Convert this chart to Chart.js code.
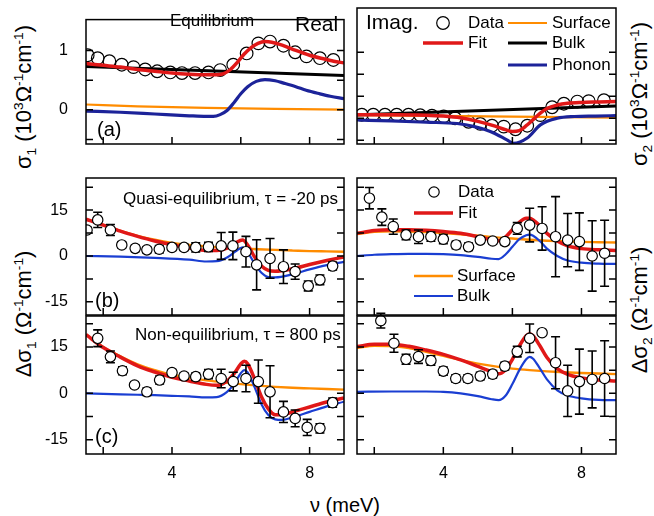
<!DOCTYPE html>
<html><head><meta charset="utf-8">
<script src="https://cdn.jsdelivr.net/npm/chart.js@4.4.1/dist/chart.umd.min.js"></script>
<style>
html,body{margin:0;padding:0;background:#fff;}
#wrap{position:relative;width:654px;height:516px;overflow:hidden;font-family:"Liberation Sans",Arial,sans-serif;color:#000;}
canvas{position:absolute;left:0;top:0;}
.ttl{position:absolute;white-space:nowrap;font-size:22px;line-height:1;transform:translate(-50%,-50%);}
.rot{transform:translate(-50%,-50%) rotate(-90deg);}
.ttl sub,.ttl sup{font-size:0.62em;line-height:0;}
</style></head>
<body><div id="wrap">
<div class="ttl rot" style="left:24px;top:97px">σ<sub>1</sub> (10<sup>3</sup>Ω<sup>-1</sup>cm<sup>-1</sup>)</div>
<div class="ttl rot" style="left:24px;top:314px">Δσ<sub>1</sub> (Ω<sup>-1</sup>cm<sup>-1</sup>)</div>
<div class="ttl rot" style="left:640px;top:94px">σ<sub>2</sub> (10<sup>3</sup>Ω<sup>-1</sup>cm<sup>-1</sup>)</div>
<div class="ttl rot" style="left:640px;top:310px">Δσ<sub>2</sub> (Ω<sup>-1</sup>cm<sup>-1</sup>)</div>
<div class="ttl" style="left:345px;top:505px;font-size:20px">ν (meV)</div>
</div>
<script>
// ---------------- data ----------------
// (a) equilibrium, real part sigma1 (10^3 Ohm^-1 cm^-1)
const freqA1 = [1.55,1.84,2.18,2.54,2.88,3.22,3.57,3.95,4.29,4.67,5.06,5.40,5.78,6.17,6.51,6.85,7.24,7.58,7.91,8.30,8.69];
const sigma1 = [0.92,0.87,0.82,0.76,0.72,0.68,0.65,0.63,0.62,0.62,0.63,0.67,0.76,0.95,1.12,1.15,1.08,0.97,0.90,0.87,0.84];
const fitA1x = [1.5,2.0,2.5,3.0,3.5,4.0,4.5,5.0,5.3,5.5,5.7,5.9,6.1,6.3,6.5,6.7,6.9,7.2,7.6,8.0,8.4,8.7,9.0];
const fitA1  = [0.78,0.75,0.72,0.68,0.65,0.62,0.60,0.59,0.59,0.61,0.68,0.80,0.94,1.05,1.12,1.15,1.14,1.09,1.00,0.92,0.86,0.82,0.79];
const bulkA1x = [1.5,9.0];
const bulkA1  = [0.73,0.58];
const surfA1x = [1.5,3.0,5.0,7.0,9.0];
const surfA1  = [0.09,0.06,0.035,0.015,0.005];
const phonA1x = [1.5,2.5,3.5,4.5,5.0,5.2,5.4,5.6,5.8,6.0,6.2,6.45,6.7,7.0,7.25,7.6,7.9,8.3,8.6,9.0];
const phonA1  = [-0.02,-0.04,-0.07,-0.10,-0.11,-0.11,-0.08,-0.01,0.12,0.27,0.39,0.48,0.51,0.49,0.45,0.39,0.33,0.27,0.23,0.19];

// (a) equilibrium, imaginary part sigma2
const freqA2 = [1.64,1.97,2.31,2.65,2.99,3.33,3.67,4.01,4.34,4.73,5.07,5.41,5.75,6.09,6.43,6.81,7.15,7.49,7.88,8.21,8.65];
const sigma2 = [0.08,0.08,0.08,0.08,0.08,0.07,0.06,0.04,0.0,-0.08,-0.13,-0.17,-0.19,-0.25,-0.17,0.07,0.25,0.33,0.38,0.39,0.41];
const fitA2x = [1.5,2.5,3.5,4.0,4.5,5.0,5.5,5.8,6.0,6.2,6.4,6.6,6.8,7.0,7.3,7.6,8.0,8.5,9.0];
const fitA2  = [0.08,0.08,0.07,0.05,0.01,-0.07,-0.18,-0.26,-0.30,-0.28,-0.17,-0.03,0.11,0.22,0.30,0.34,0.36,0.37,0.38];
const bulkA2x = [1.5,9.0];
const bulkA2  = [0.075,0.28];
const surfA2x = [1.5,9.0];
const surfA2  = [0.07,0.015];
const phonA2x = [1.5,2.5,3.5,4.4,4.9,5.36,5.84,6.03,6.43,6.81,7.3,7.8,8.4,9.0];
const phonA2  = [-0.04,-0.06,-0.09,-0.12,-0.19,-0.30,-0.49,-0.57,-0.45,-0.15,0.0,0.04,0.05,0.06];

// (b) quasi-equilibrium, tau = -20 ps, Delta sigma1 (Ohm^-1 cm^-1)
const freqB1 = [1.53,1.84,2.21,2.54,2.93,3.27,3.63,4.00,4.35,4.69,5.06,5.43,5.77,6.15,6.46,6.85,7.24,7.58,7.96,8.30,8.67];
const dSigB1 = [8.5,11.8,8.5,3.6,2.5,2.0,2.2,2.8,2.8,2.8,3.0,3.3,3.3,1.4,-2.9,-0.8,-3.5,-5.1,-9.8,-7.8,-3.3];
const errB1  = [1.0,2.5,1.8,1.0,1.0,1.0,1.2,1.0,1.0,1.5,1.5,4.4,4.5,5.0,8.2,6.5,5.5,2.5,1.6,1.6,1.3];
const fitB1x = [1.5,2.0,2.5,3.0,3.5,4.0,4.5,5.0,5.3,5.6,5.85,6.05,6.2,6.4,6.6,6.8,7.0,7.5,8.0,8.5,9.0];
const fitB1  = [12,10.1,8.1,6.4,4.9,3.7,2.6,1.8,1.8,2.6,4.3,5.2,3.6,-0.3,-3.3,-4.7,-5.0,-4.2,-2.8,-1.5,-0.3];
const surfB1x = [1.5,2.0,2.5,3.0,3.5,4.0,4.5,5.0,5.5,6.0,6.5,7.0,7.5,8.0,8.5,9.0];
const surfB1  = [12,10.2,8.2,6.6,5.3,4.3,3.6,3.1,2.7,2.4,2.2,2.0,1.8,1.6,1.5,1.4];
const bulkB1x = [1.5,2.5,3.5,4.5,5.0,5.3,5.6,5.85,6.05,6.2,6.4,6.6,6.8,7.0,7.5,8.0,8.5,9.0];
const bulkB1  = [0,-0.2,-0.6,-1.2,-1.8,-1.7,-0.5,1.5,2.8,1.2,-2.5,-5.5,-6.9,-7.0,-6.0,-4.4,-3.0,-1.9];

// (b) quasi-equilibrium, Delta sigma2
const freqB2 = [1.86,2.22,2.55,2.92,3.28,3.64,4.00,4.37,4.73,5.07,5.43,5.78,6.14,6.50,6.86,7.25,7.60,7.94,8.31,8.67];
const dSigB2 = [18.9,12.7,9.6,6.9,6.3,6.3,5.5,3.6,3.0,5.2,4.9,4.7,9.0,10.1,9.0,6.3,5.2,4.7,0.0,0.9];
const errB2  = [3.5,2.7,2.5,1.6,2.2,1.5,1.5,1.2,1.2,1.0,1.0,1.0,1.9,5.5,7.1,13.1,8.7,9.4,11.5,10.8];
const fitB2x = [1.5,2.0,2.5,3.0,3.5,4.0,4.5,5.0,5.4,5.6,5.8,6.0,6.2,6.4,6.5,6.6,6.8,7.0,7.3,7.6,8.0,8.5,9.0];
const fitB2  = [7.4,8.3,8.6,8.6,8.4,8.0,7.4,6.3,5.3,5.0,6.2,8.6,11.0,12.3,12.3,11.8,9.8,7.4,4.9,3.3,2.4,2.0,1.8];
const surfB2x = [1.5,2.0,2.5,3.0,3.5,4.0,4.5,5.0,5.5,6.0,6.5,7.0,7.5,8.0,8.5,9.0];
const surfB2  = [7.2,7.9,8.1,8.0,7.8,7.5,7.1,6.6,6.1,5.7,5.3,5.0,4.8,4.6,4.5,4.4];
const bulkB2x = [1.5,2.0,2.5,3.0,3.5,4.0,4.5,5.0,5.4,5.6,5.8,6.0,6.2,6.4,6.5,6.6,6.8,7.0,7.3,7.6,8.0,8.5,9.0];
const bulkB2  = [0,0.4,0.6,0.7,0.7,0.6,0.3,-0.3,-0.9,-1.0,0.5,3.0,5.5,6.8,7.0,6.6,4.8,2.4,0.0,-1.5,-2.2,-2.5,-2.6];

// (c) non-equilibrium, tau = 800 ps, Delta sigma1
const freqC1 = [1.84,2.21,2.56,2.91,3.27,3.64,4.00,4.35,4.69,5.06,5.43,5.78,6.15,6.51,6.85,7.24,7.58,7.93,8.30,8.67];
const dSigC1 = [17.8,11.8,7.3,2.7,0.5,4.3,6.7,5.6,5.4,6.2,4.8,3.8,4.8,3.8,0.5,-6.0,-8.1,-11.0,-11.3,-3.0];
const errC1  = [2.7,1.9,1.3,1.0,1.2,1.3,1.0,1.0,1.2,1.5,3.0,3.0,4.3,7.0,8.4,3.4,2.7,2.6,1.5,1.5];
const fitC1x = [1.5,2.0,2.5,3.0,3.5,4.0,4.5,5.0,5.3,5.6,5.8,6.0,6.1,6.2,6.4,6.6,6.8,7.0,7.2,7.5,8.0,8.5,9.0];
const fitC1  = [19,14.8,11.7,8.9,6.9,5.2,4.0,2.9,2.6,4.0,6.3,9.5,10.4,9.6,4.7,-1.1,-5.0,-6.9,-6.9,-6.0,-4.4,-2.8,-1.5];
const surfC1x = [1.5,2.0,2.5,3.0,3.5,4.0,4.5,5.0,5.5,6.0,6.5,7.0,7.5,8.0,8.5,9.0];
const surfC1  = [19,15,12,9.4,7.5,6.0,5.0,4.2,3.6,3.0,2.5,2.1,1.8,1.6,1.4,1.2];
const bulkC1x = [1.5,2.0,2.5,3.0,3.5,4.0,4.5,5.0,5.3,5.6,5.8,6.0,6.1,6.2,6.4,6.6,6.8,7.0,7.2,7.5,8.0,8.5,9.0];
const bulkC1  = [0,-0.15,-0.3,-0.45,-0.6,-0.8,-1.0,-1.3,-1.2,0.5,3.0,6.5,7.5,6.8,2.0,-3.5,-7.0,-8.4,-8.6,-7.8,-6.0,-4.2,-2.7];

// (c) non-equilibrium, Delta sigma2
const freqC2 = [2.19,2.57,2.92,3.28,3.64,4.00,4.36,4.71,5.07,5.43,5.78,6.14,6.50,6.86,7.25,7.60,7.94,8.31,8.67];
const dSigC2 = [23.5,16.2,11.0,11.9,10.6,7.2,4.8,4.8,5.6,6.2,8.8,13.5,17.8,19.6,9.9,0.8,3.8,4.5,4.8];
const errC2  = [2.4,2.9,1.6,2.2,1.5,1.3,1.2,1.2,1.2,1.2,1.2,1.7,4.6,0,8.4,8.3,10.5,9.2,12.2];
const fitC2x = [1.5,2.0,2.5,3.0,3.5,4.0,4.5,5.0,5.4,5.6,5.8,6.0,6.2,6.4,6.5,6.6,6.8,7.0,7.3,7.6,8.0,8.5,9.0];
const fitC2  = [15.1,15.9,15.9,15.2,14.0,12.6,10.8,8.7,7.0,6.3,7.6,11.0,15.3,18.6,19.3,18.6,15.3,11.6,8.0,6.1,5.0,4.3,4.0];
const surfC2x = [1.5,2.0,2.5,3.0,3.5,4.0,4.5,5.0,5.5,6.0,6.5,7.0,7.5,8.0,8.5,9.0];
const surfC2  = [14.6,15.4,15.3,14.6,13.4,12.1,10.8,9.6,8.7,8.0,7.5,7.1,6.8,6.6,6.4,6.2];
const bulkC2x = [1.5,2.5,3.5,4.0,4.5,5.0,5.4,5.6,5.8,6.0,6.2,6.4,6.5,6.6,6.8,7.0,7.3,7.6,8.0,8.5,9.0];
const bulkC2  = [0.5,0.6,0.6,0.5,0.0,-0.9,-1.9,-2.2,-0.8,3.0,7.5,11.0,11.8,11.2,8.0,4.5,1.0,-0.7,-1.6,-2.1,-2.2];

// ticks
const xTickMarks = [2,4,6,8];
const xTickLabels = [4,8];
const yTickMarksA1 = [-0.5,0,0.5,1];
const yTickLabelsA1 = [0,1];
const yTickMarksA2 = [-0.5,0,0.5,1,1.5];
const yTickMarksD = [-15,-7.5,0,7.5,15,22.5];
const yTickLabelsD = [-15,0,15];

// ---------------- styling / layout ----------------
const W = 654, H = 516;
const FONT = '"Liberation Sans", Arial, sans-serif';
Chart.defaults.font.family = FONT;
const RED = '#e01818', ORANGE = '#ff8c00', BLACK = '#000000', NAVY = '#1c2399', BLUE = '#1a3ed2';

const pts = (xs, ys) => xs.map((x, i) => ({x: x, y: ys[i]}));

function lineDS(label, xs, ys, color, width, order) {
  return {label, data: pts(xs, ys), borderColor: color, borderWidth: width, pointRadius: 0,
    fill: false, cubicInterpolationMode: 'monotone', order, clip: 0};
}
function dataDS(xs, ys, errs, r, fillColor, order) {
  return {label: 'Data', data: pts(xs, ys), errors: errs, showLine: false, pointStyle: 'circle',
    pointRadius: r, pointBorderWidth: 1.2, pointBorderColor: '#000', pointBackgroundColor: fillColor,
    order, clip: {left: 0, top: 6, right: 0, bottom: 0}};
}

const panelPlugin = {
  id: 'panel',
  beforeDatasetDraw(chart, args) {
    const ds = chart.data.datasets[args.index];
    if (!ds.errors) return;
    const {ctx, chartArea: a} = chart;
    const xs = chart.scales.x, ys = chart.scales.y;
    ctx.save();
    ctx.beginPath(); ctx.rect(a.left, a.top - 6, a.right - a.left, a.bottom - a.top + 6); ctx.clip();
    ctx.strokeStyle = '#000'; ctx.lineWidth = 1.6;
    ds.data.forEach((p, i) => {
      const e = ds.errors[i];
      if (!e) return;
      const x = xs.getPixelForValue(p.x);
      const y1 = ys.getPixelForValue(p.y - e), y2 = ys.getPixelForValue(p.y + e);
      ctx.beginPath();
      ctx.moveTo(x, y1); ctx.lineTo(x, y2);
      ctx.moveTo(x - 4.5, y1); ctx.lineTo(x + 4.5, y1);
      ctx.moveTo(x - 4.5, y2); ctx.lineTo(x + 4.5, y2);
      ctx.stroke();
    });
    ctx.restore();
  },
  afterDraw(chart, args, opts) {
    const {ctx, chartArea: a} = chart;
    const xs = chart.scales.x, ys = chart.scales.y;
    ctx.save();
    ctx.strokeStyle = '#000'; ctx.lineWidth = 1.5;
    ctx.strokeRect(a.left, a.top, a.right - a.left, a.bottom - a.top);
    const TL = 7;
    ctx.beginPath();
    (opts.yMarks || []).forEach(v => {
      const y = ys.getPixelForValue(v);
      ctx.moveTo(a.left, y); ctx.lineTo(a.left + TL, y);
      ctx.moveTo(a.right, y); ctx.lineTo(a.right - TL, y);
    });
    (opts.xMarks || []).forEach(v => {
      const x = xs.getPixelForValue(v);
      ctx.moveTo(x, a.bottom); ctx.lineTo(x, a.bottom - TL);
    });
    ctx.stroke();
    ctx.fillStyle = '#000'; ctx.textBaseline = 'middle'; ctx.textAlign = 'left';
    (opts.texts || []).forEach(t => {
      ctx.font = t.size + 'px ' + FONT;
      ctx.fillText(t.t, t.x, t.y);
    });
    (opts.legend || []).forEach(it => {
      if (it.kind === 'circle') {
        ctx.beginPath(); ctx.arc(it.x, it.y, it.r, 0, 2 * Math.PI);
        ctx.fillStyle = '#fff'; ctx.fill();
        ctx.lineWidth = 1.2; ctx.strokeStyle = '#000'; ctx.stroke();
      } else {
        ctx.beginPath(); ctx.moveTo(it.x1, it.y); ctx.lineTo(it.x2, it.y);
        ctx.lineWidth = it.w; ctx.strokeStyle = it.c; ctx.stroke();
      }
      ctx.fillStyle = '#000'; ctx.font = '17px ' + FONT;
      ctx.fillText(it.label, it.lx, it.y);
    });
    ctx.restore();
  }
};

function makePanel(p) {
  const c = document.createElement('canvas');
  c.width = W; c.height = H;
  document.getElementById('wrap').appendChild(c);
  const f = p.frame;
  new Chart(c, {
    type: 'line',
    data: {datasets: p.datasets},
    options: {
      responsive: false, animation: false, events: [],
      layout: {padding: {left: 0, top: f.t, right: W - f.r, bottom: 0}},
      scales: {
        x: {type: 'linear', min: 1.5, max: 9.0,
          grid: {display: false}, border: {display: false},
          ticks: {display: !!p.xLabels, color: '#000', font: {size: 16}, padding: 2, maxRotation: 0, autoSkip: false},
          afterBuildTicks: s => { s.ticks = (p.xLabels || xTickMarks).map(v => ({value: v})); },
          afterFit: s => { s.height = H - f.b; }},
        y: {type: 'linear', min: p.yMin, max: p.yMax,
          grid: {display: false}, border: {display: false},
          ticks: {display: !!p.yLabels, color: '#000', font: {size: 16}, padding: 10, autoSkip: false},
          afterBuildTicks: s => { s.ticks = (p.yLabels || p.yMarks).map(v => ({value: v})); },
          afterFit: s => { s.width = f.l; }}
      },
      plugins: {legend: {display: false}, tooltip: {enabled: false},
        panel: {xMarks: xTickMarks, yMarks: p.yMarks, texts: p.texts, legend: p.legend}}
    },
    plugins: [panelPlugin]
  });
}

// (a) real
makePanel({
  frame: {l: 86, t: 8, r: 344, b: 144}, yMin: -0.575, yMax: 1.52,
  yMarks: yTickMarksA1, yLabels: yTickLabelsA1,
  datasets: [
    lineDS('Fit', fitA1x, fitA1, RED, 3.5, 0),
    lineDS('Phonon', phonA1x, phonA1, NAVY, 3.2, 1),
    lineDS('Bulk', bulkA1x, bulkA1, BLACK, 3, 2),
    lineDS('Surface', surfA1x, surfA1, ORANGE, 2.2, 3),
    dataDS(freqA1, sigma1, null, 6.3, 'rgba(255,255,255,0)', 10)
  ],
  texts: [{t: 'Equilibrium', x: 170, y: 21, size: 17}, {t: 'Real', x: 295, y: 25, size: 21}, {t: '(a)', x: 97, y: 130, size: 20}]
});
// (a) imaginary
makePanel({
  frame: {l: 357, t: 8, r: 616, b: 144}, yMin: -0.585, yMax: 2.505,
  yMarks: yTickMarksA2,
  datasets: [
    lineDS('Fit', fitA2x, fitA2, RED, 3.5, 0),
    lineDS('Phonon', phonA2x, phonA2, NAVY, 3.2, 1),
    lineDS('Bulk', bulkA2x, bulkA2, BLACK, 3, 2),
    lineDS('Surface', surfA2x, surfA2, ORANGE, 2.2, 3),
    dataDS(freqA2, sigma2, null, 6.3, 'rgba(255,255,255,0)', 10)
  ],
  texts: [{t: 'Imag.', x: 366, y: 23, size: 21}],
  legend: [
    {kind: 'circle', x: 443, y: 23, r: 6.3, label: 'Data', lx: 468},
    {kind: 'line', x1: 508, x2: 547, y: 23, c: ORANGE, w: 2.2, label: 'Surface', lx: 552},
    {kind: 'line', x1: 423, x2: 463, y: 43, c: RED, w: 3.5, label: 'Fit', lx: 468},
    {kind: 'line', x1: 508, x2: 547, y: 43, c: BLACK, w: 3, label: 'Bulk', lx: 552},
    {kind: 'line', x1: 508, x2: 547, y: 65, c: NAVY, w: 3.2, label: 'Phonon', lx: 552}
  ]
});
// (b) real
makePanel({
  frame: {l: 86, t: 178, r: 344, b: 315}, yMin: -19.3, yMax: 25.5,
  yMarks: yTickMarksD, yLabels: yTickLabelsD,
  datasets: [
    dataDS(freqB1, dSigB1, errB1, 5.2, '#fff', 0),
    lineDS('Fit', fitB1x, fitB1, RED, 3.5, 1),
    lineDS('Bulk', bulkB1x, bulkB1, BLUE, 2.2, 2),
    lineDS('Surface', surfB1x, surfB1, ORANGE, 2.4, 3)
  ],
  texts: [{t: 'Quasi-equilibrium, τ = -20 ps', x: 123, y: 199, size: 17}, {t: '(b)', x: 95, y: 301, size: 20}]
});
// (b) imaginary
makePanel({
  frame: {l: 357, t: 178, r: 616, b: 315}, yMin: -19.3, yMax: 25.5,
  yMarks: yTickMarksD,
  datasets: [
    dataDS(freqB2, dSigB2, errB2, 5.2, '#fff', 0),
    lineDS('Fit', fitB2x, fitB2, RED, 3.5, 1),
    lineDS('Bulk', bulkB2x, bulkB2, BLUE, 2.2, 2),
    lineDS('Surface', surfB2x, surfB2, ORANGE, 2.4, 3)
  ],
  legend: [
    {kind: 'circle', x: 434, y: 192, r: 5.2, label: 'Data', lx: 458},
    {kind: 'line', x1: 414, x2: 453, y: 213, c: RED, w: 3.5, label: 'Fit', lx: 458},
    {kind: 'line', x1: 414, x2: 453, y: 276, c: ORANGE, w: 2.4, label: 'Surface', lx: 457},
    {kind: 'line', x1: 414, x2: 453, y: 296, c: BLUE, w: 2.2, label: 'Bulk', lx: 457}
  ]
});
// (c) real
makePanel({
  frame: {l: 86, t: 316, r: 344, b: 454}, yMin: -19.6, yMax: 25.0,
  yMarks: yTickMarksD, yLabels: yTickLabelsD, xLabels: xTickLabels,
  datasets: [
    dataDS(freqC1, dSigC1, errC1, 5.2, '#fff', 0),
    lineDS('Fit', fitC1x, fitC1, RED, 3.5, 1),
    lineDS('Bulk', bulkC1x, bulkC1, BLUE, 2.2, 2),
    lineDS('Surface', surfC1x, surfC1, ORANGE, 2.4, 3)
  ],
  texts: [{t: 'Non-equilibrium, τ = 800 ps', x: 135, y: 335, size: 17}, {t: '(c)', x: 95, y: 437, size: 20}]
});
// (c) imaginary
makePanel({
  frame: {l: 357, t: 316, r: 616, b: 454}, yMin: -19.6, yMax: 25.0,
  yMarks: yTickMarksD, xLabels: xTickLabels,
  datasets: [
    dataDS(freqC2, dSigC2, errC2, 5.2, '#fff', 0),
    lineDS('Fit', fitC2x, fitC2, RED, 3.5, 1),
    lineDS('Bulk', bulkC2x, bulkC2, BLUE, 2.2, 2),
    lineDS('Surface', surfC2x, surfC2, ORANGE, 2.4, 3)
  ]
});
</script>
</body></html>
